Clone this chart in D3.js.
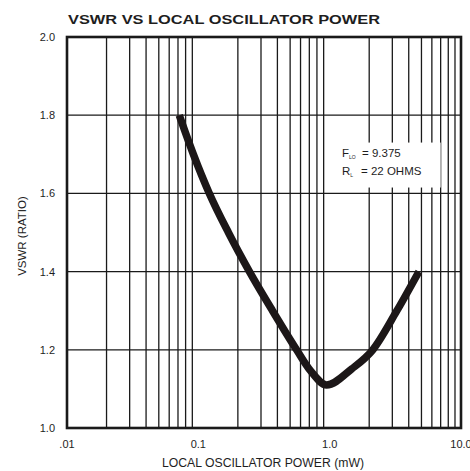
<!DOCTYPE html>
<html>
<head>
<meta charset="utf-8">
<script src="https://cdn.jsdelivr.net/npm/d3@7"></script>
<style>
  body { margin: 0; background: #fff; }
  text { font-family: "Liberation Sans", Arial, Helvetica, sans-serif; fill: #1e1e1e; }
</style>
</head>
<body>
<div id="container"></div>
<script>
// values
var powerMw = [0.0716, 0.0917, 0.1213, 0.1694, 0.245, 0.367, 0.56, 0.716, 0.948, 1.47, 2.13, 3.25, 4.78];
var vswr = [1.80, 1.70, 1.60, 1.50, 1.40, 1.30, 1.20, 1.146, 1.11, 1.151, 1.20, 1.30, 1.40];
var xTickValues = [0.01, 0.1, 1, 10];
var xTickLabels = [".01", "0.1", "1.0", "10.0"];
var yTickValues = [1.0, 1.2, 1.4, 1.6, 1.8, 2.0];

var width = 470, height = 471;
var margin = { left: 67, right: 9, top: 37, bottom: 43 };
var plotW = width - margin.left - margin.right;
var plotH = height - margin.top - margin.bottom;

var x = d3.scaleLog().domain([0.01, 10]).range([0, plotW]);
var y = d3.scaleLinear().domain([1.0, 2.0]).range([plotH, 0]);

// minor grid: 2..9 in every decade
var gridX = [];
[0.01, 0.1, 1].forEach(function (dec) {
  for (let k = 2; k <= 9; k++) gridX.push(dec * k);
});

const svg = d3
  .select("#container")
  .append("svg")
  .attr("width", width)
  .attr("height", height);

svg
  .append("text")
  .attr("x", 68)
  .attr("y", 24)
  .attr("textLength", 312)
  .attr("lengthAdjust", "spacingAndGlyphs")
  .style("font-size", "13px")
  .style("font-weight", "bold")
  .text("VSWR VS LOCAL OSCILLATOR POWER");

const g = svg
  .append("g")
  .attr("transform", `translate(${margin.left} ${margin.top})`);

g.append("g")
  .selectAll("line")
  .data(gridX)
  .enter()
  .append("line")
  .attr("x1", (d) => x(d))
  .attr("x2", (d) => x(d))
  .attr("y1", 0)
  .attr("y2", plotH)
  .style("stroke", "#1a1a1a")
  .style("stroke-width", 1.3);

g.append("g")
  .selectAll("line")
  .data(yTickValues)
  .enter()
  .append("line")
  .attr("x1", 0)
  .attr("x2", plotW)
  .attr("y1", (d) => y(d))
  .attr("y2", (d) => y(d))
  .style("stroke", "#1a1a1a")
  .style("stroke-width", 1.3);

// note box hides the grid behind the text
g.append("rect")
  .attr("x", x(1.45))
  .attr("y", y(1.73))
  .attr("width", x(7.0) - x(1.45))
  .attr("height", y(1.615) - y(1.73))
  .style("fill", "#fff");

g.append("rect")
  .attr("x", 0)
  .attr("y", 0)
  .attr("width", plotW)
  .attr("height", plotH)
  .style("fill", "none")
  .style("stroke", "#1a1a1a")
  .style("stroke-width", 2.6);

var points = powerMw.map(function (p, i) {
  return [p, vswr[i]];
});

var line = d3
  .line()
  .x((d) => x(d[0]))
  .y((d) => y(d[1]))
  .curve(d3.curveMonotoneX);

g.append("path")
  .datum(points)
  .attr("d", line)
  .style("fill", "none")
  .style("stroke", "#1c1718")
  .style("stroke-width", 7.5)
  .style("stroke-linecap", "butt");

// tick labels
g.append("g")
  .selectAll("text")
  .data(xTickValues)
  .enter()
  .append("text")
  .attr("x", (d) => x(d))
  .attr("y", plotH + 20)
  .attr("text-anchor", "middle")
  .style("font-size", "11px")
  .text((d, i) => xTickLabels[i]);

g.append("g")
  .selectAll("text")
  .data(yTickValues)
  .enter()
  .append("text")
  .attr("x", -12)
  .attr("y", (d) => y(d))
  .attr("dy", "0.36em")
  .attr("text-anchor", "end")
  .style("font-size", "11px")
  .text((d) => d.toFixed(1));

svg
  .append("text")
  .attr("x", 263)
  .attr("y", 467)
  .attr("text-anchor", "middle")
  .attr("textLength", 202)
  .attr("lengthAdjust", "spacingAndGlyphs")
  .style("font-size", "12px")
  .text("LOCAL OSCILLATOR POWER (mW)");

svg
  .append("text")
  .attr("transform", "translate(26 236) rotate(-90)")
  .attr("text-anchor", "middle")
  .style("font-size", "11.5px")
  .text("VSWR (RATIO)");

// annotation
var note1 = svg.append("text").attr("x", 342).attr("y", 157).style("font-size", "11.5px");
note1.append("tspan").text("F");
note1.append("tspan").attr("dy", 2).style("font-size", "5px").text("LO");
note1.append("tspan").attr("x", 362).attr("dy", -2).text("= 9.375");

var note2 = svg.append("text").attr("x", 342).attr("y", 175).style("font-size", "11.5px");
note2.append("tspan").text("R");
note2.append("tspan").attr("dy", 2).style("font-size", "5px").text("L");
note2.append("tspan").attr("x", 361).attr("dy", -2).text("= 22 OHMS");
</script>
</body>
</html>
